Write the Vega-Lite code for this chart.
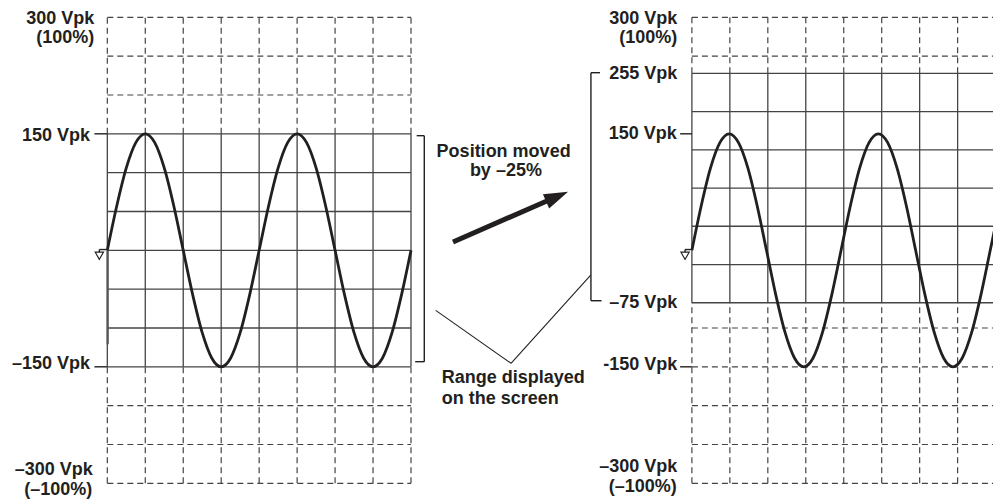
{
  "$schema": "https://vega.github.io/schema/vega-lite/v6.json",
  "width": 993,
  "height": 499,
  "autosize": {"type": "none"},
  "padding": 0,
  "background": "white",
  "config": {"view": {"stroke": null}},
  "datasets": {
    "segments": [
      {"kind": "screen", "x": 0, "x2": 8, "v": 150, "v2": 150},
      {"kind": "screen", "x": 0, "x2": 8, "v": 100, "v2": 100},
      {"kind": "screen", "x": 0, "x2": 8, "v": 50, "v2": 50},
      {"kind": "screen", "x": 0, "x2": 8, "v": 0, "v2": 0},
      {"kind": "screen", "x": 0, "x2": 8, "v": -50, "v2": -50},
      {"kind": "screen", "x": 0, "x2": 8, "v": -100, "v2": -100},
      {"kind": "screen", "x": 0, "x2": 8, "v": -150, "v2": -150},
      {"kind": "full", "x": 0, "x2": 8, "v": 300, "v2": 300},
      {"kind": "full", "x": 0, "x2": 8, "v": 250, "v2": 250},
      {"kind": "full", "x": 0, "x2": 8, "v": 200, "v2": 200},
      {"kind": "full", "x": 0, "x2": 8, "v": -200, "v2": -200},
      {"kind": "full", "x": 0, "x2": 8, "v": -250, "v2": -250},
      {"kind": "full", "x": 0, "x2": 8, "v": -300, "v2": -300},
      {"kind": "screen", "x": 0, "x2": 0, "v": -150, "v2": 150},
      {"kind": "screen", "x": 1, "x2": 1, "v": -150, "v2": 150},
      {"kind": "screen", "x": 2, "x2": 2, "v": -150, "v2": 150},
      {"kind": "screen", "x": 3, "x2": 3, "v": -150, "v2": 150},
      {"kind": "screen", "x": 4, "x2": 4, "v": -150, "v2": 150},
      {"kind": "screen", "x": 5, "x2": 5, "v": -150, "v2": 150},
      {"kind": "screen", "x": 6, "x2": 6, "v": -150, "v2": 150},
      {"kind": "screen", "x": 7, "x2": 7, "v": -150, "v2": 150},
      {"kind": "screen", "x": 8, "x2": 8, "v": -150, "v2": 150},
      {"kind": "full", "x": 0, "x2": 0, "v": 150, "v2": 300},
      {"kind": "full", "x": 1, "x2": 1, "v": 150, "v2": 300},
      {"kind": "full", "x": 2, "x2": 2, "v": 150, "v2": 300},
      {"kind": "full", "x": 3, "x2": 3, "v": 150, "v2": 300},
      {"kind": "full", "x": 4, "x2": 4, "v": 150, "v2": 300},
      {"kind": "full", "x": 5, "x2": 5, "v": 150, "v2": 300},
      {"kind": "full", "x": 6, "x2": 6, "v": 150, "v2": 300},
      {"kind": "full", "x": 7, "x2": 7, "v": 150, "v2": 300},
      {"kind": "full", "x": 8, "x2": 8, "v": 150, "v2": 300},
      {"kind": "full", "x": 0, "x2": 0, "v": -300, "v2": -150},
      {"kind": "full", "x": 1, "x2": 1, "v": -300, "v2": -150},
      {"kind": "full", "x": 2, "x2": 2, "v": -300, "v2": -150},
      {"kind": "full", "x": 3, "x2": 3, "v": -300, "v2": -150},
      {"kind": "full", "x": 4, "x2": 4, "v": -300, "v2": -150},
      {"kind": "full", "x": 5, "x2": 5, "v": -300, "v2": -150},
      {"kind": "full", "x": 6, "x2": 6, "v": -300, "v2": -150},
      {"kind": "full", "x": 7, "x2": 7, "v": -300, "v2": -150},
      {"kind": "full", "x": 8, "x2": 8, "v": -300, "v2": -150},

      {"kind": "screen", "x": 15.4, "x2": 23.4, "v": 227.9, "v2": 227.9},
      {"kind": "screen", "x": 15.4, "x2": 23.4, "v": 178.7, "v2": 178.7},
      {"kind": "screen", "x": 15.4, "x2": 23.4, "v": 129.4, "v2": 129.4},
      {"kind": "screen", "x": 15.4, "x2": 23.4, "v": 80.2, "v2": 80.2},
      {"kind": "screen", "x": 15.4, "x2": 23.4, "v": 31.0, "v2": 31.0},
      {"kind": "screen", "x": 15.4, "x2": 23.4, "v": -18.3, "v2": -18.3},
      {"kind": "screen", "x": 15.4, "x2": 23.4, "v": -67.5, "v2": -67.5},
      {"kind": "full", "x": 15.4, "x2": 23.4, "v": 300, "v2": 300},
      {"kind": "full", "x": 15.4, "x2": 23.4, "v": 250, "v2": 250},
      {"kind": "full", "x": 15.4, "x2": 23.4, "v": -100, "v2": -100},
      {"kind": "full", "x": 15.4, "x2": 23.4, "v": -150, "v2": -150},
      {"kind": "full", "x": 15.4, "x2": 23.4, "v": -200, "v2": -200},
      {"kind": "full", "x": 15.4, "x2": 23.4, "v": -250, "v2": -250},
      {"kind": "full", "x": 15.4, "x2": 23.4, "v": -300, "v2": -300},
      {"kind": "screen", "x": 15.4, "x2": 15.4, "v": -67.5, "v2": 227.9},
      {"kind": "screen", "x": 16.4, "x2": 16.4, "v": -67.5, "v2": 227.9},
      {"kind": "screen", "x": 17.4, "x2": 17.4, "v": -67.5, "v2": 227.9},
      {"kind": "screen", "x": 18.4, "x2": 18.4, "v": -67.5, "v2": 227.9},
      {"kind": "screen", "x": 19.4, "x2": 19.4, "v": -67.5, "v2": 227.9},
      {"kind": "screen", "x": 20.4, "x2": 20.4, "v": -67.5, "v2": 227.9},
      {"kind": "screen", "x": 21.4, "x2": 21.4, "v": -67.5, "v2": 227.9},
      {"kind": "screen", "x": 22.4, "x2": 22.4, "v": -67.5, "v2": 227.9},
      {"kind": "full", "x": 15.4, "x2": 15.4, "v": 227.9, "v2": 300},
      {"kind": "full", "x": 16.4, "x2": 16.4, "v": 227.9, "v2": 300},
      {"kind": "full", "x": 17.4, "x2": 17.4, "v": 227.9, "v2": 300},
      {"kind": "full", "x": 18.4, "x2": 18.4, "v": 227.9, "v2": 300},
      {"kind": "full", "x": 19.4, "x2": 19.4, "v": 227.9, "v2": 300},
      {"kind": "full", "x": 20.4, "x2": 20.4, "v": 227.9, "v2": 300},
      {"kind": "full", "x": 21.4, "x2": 21.4, "v": 227.9, "v2": 300},
      {"kind": "full", "x": 22.4, "x2": 22.4, "v": 227.9, "v2": 300},
      {"kind": "full", "x": 15.4, "x2": 15.4, "v": -300, "v2": -67.5},
      {"kind": "full", "x": 16.4, "x2": 16.4, "v": -300, "v2": -67.5},
      {"kind": "full", "x": 17.4, "x2": 17.4, "v": -300, "v2": -67.5},
      {"kind": "full", "x": 18.4, "x2": 18.4, "v": -300, "v2": -67.5},
      {"kind": "full", "x": 19.4, "x2": 19.4, "v": -300, "v2": -67.5},
      {"kind": "full", "x": 20.4, "x2": 20.4, "v": -300, "v2": -67.5},
      {"kind": "full", "x": 21.4, "x2": 21.4, "v": -300, "v2": -67.5},
      {"kind": "full", "x": 22.4, "x2": 22.4, "v": -300, "v2": -67.5},

      {"kind": "mark", "x": -0.34, "x2": 0, "v": 150, "v2": 150},
      {"kind": "mark", "x": -0.34, "x2": 0, "v": -150, "v2": -150},
      {"kind": "mark", "x": 15.09, "x2": 15.4, "v": 150, "v2": 150},
      {"kind": "mark", "x": 15.09, "x2": 15.4, "v": -150, "v2": -150},
      {"kind": "mark", "x": 8.15, "x2": 8.35, "v": 147.6, "v2": 147.6},
      {"kind": "mark", "x": 8.35, "x2": 8.35, "v": 147.6, "v2": -143.4},
      {"kind": "mark", "x": 8.11, "x2": 8.35, "v": -143.4, "v2": -143.4},
      {"kind": "mark", "x": 12.74, "x2": 12.98, "v": 228.7, "v2": 228.7},
      {"kind": "mark", "x": 12.74, "x2": 12.74, "v": 228.7, "v2": -64.9},
      {"kind": "mark", "x": 12.74, "x2": 13.02, "v": -64.9, "v2": -64.9},
      {"kind": "mark", "x": -0.21, "x2": -0.02, "v": 1, "v2": 1},
      {"kind": "mark", "x": -0.21, "x2": -0.21, "v": 1, "v2": -3},
      {"kind": "mark", "x": 15.22, "x2": 15.38, "v": 1, "v2": 1},
      {"kind": "mark", "x": 15.22, "x2": 15.22, "v": 1, "v2": -3},

      {"kind": "leader", "x": 8.651, "x2": 10.635, "v": -77.3, "v2": -145.5},
      {"kind": "leader", "x": 10.635, "x2": 12.734, "v": -145.5, "v2": -31.8},

      {"kind": "trace", "x": 0.01, "x2": 0.01, "v": 0, "v2": -121},

      {"kind": "arrow", "x": 9.107, "x2": 11.85, "v": 10.7, "v2": 69.3}
    ],
    "arrowheads": [
      {"x": 11.847, "v": 69.3}
    ],
    "grounds": [
      {"x": -0.21, "v": -7},
      {"x": 15.22, "v": -7}
    ],
    "waves": [
      {"panel": "left", "x": 0, "v": 0},
      {"panel": "left", "x": 0.25, "v": 57.4},
      {"panel": "left", "x": 0.5, "v": 106.1},
      {"panel": "left", "x": 0.75, "v": 138.6},
      {"panel": "left", "x": 1, "v": 150},
      {"panel": "left", "x": 1.25, "v": 138.6},
      {"panel": "left", "x": 1.5, "v": 106.1},
      {"panel": "left", "x": 1.75, "v": 57.4},
      {"panel": "left", "x": 2, "v": 0},
      {"panel": "left", "x": 2.25, "v": -57.4},
      {"panel": "left", "x": 2.5, "v": -106.1},
      {"panel": "left", "x": 2.75, "v": -138.6},
      {"panel": "left", "x": 3, "v": -150},
      {"panel": "left", "x": 3.25, "v": -138.6},
      {"panel": "left", "x": 3.5, "v": -106.1},
      {"panel": "left", "x": 3.75, "v": -57.4},
      {"panel": "left", "x": 4, "v": 0},
      {"panel": "left", "x": 4.25, "v": 57.4},
      {"panel": "left", "x": 4.5, "v": 106.1},
      {"panel": "left", "x": 4.75, "v": 138.6},
      {"panel": "left", "x": 5, "v": 150},
      {"panel": "left", "x": 5.25, "v": 138.6},
      {"panel": "left", "x": 5.5, "v": 106.1},
      {"panel": "left", "x": 5.75, "v": 57.4},
      {"panel": "left", "x": 6, "v": 0},
      {"panel": "left", "x": 6.25, "v": -57.4},
      {"panel": "left", "x": 6.5, "v": -106.1},
      {"panel": "left", "x": 6.75, "v": -138.6},
      {"panel": "left", "x": 7, "v": -150},
      {"panel": "left", "x": 7.25, "v": -138.6},
      {"panel": "left", "x": 7.5, "v": -106.1},
      {"panel": "left", "x": 7.75, "v": -57.4},
      {"panel": "left", "x": 8, "v": 0},
      {"panel": "right", "x": 15.4, "v": 0},
      {"panel": "right", "x": 15.646, "v": 57.4},
      {"panel": "right", "x": 15.891, "v": 106.1},
      {"panel": "right", "x": 16.137, "v": 138.6},
      {"panel": "right", "x": 16.382, "v": 150},
      {"panel": "right", "x": 16.628, "v": 138.6},
      {"panel": "right", "x": 16.874, "v": 106.1},
      {"panel": "right", "x": 17.119, "v": 57.4},
      {"panel": "right", "x": 17.365, "v": 0},
      {"panel": "right", "x": 17.61, "v": -57.4},
      {"panel": "right", "x": 17.856, "v": -106.1},
      {"panel": "right", "x": 18.102, "v": -138.6},
      {"panel": "right", "x": 18.347, "v": -150},
      {"panel": "right", "x": 18.593, "v": -138.6},
      {"panel": "right", "x": 18.838, "v": -106.1},
      {"panel": "right", "x": 19.084, "v": -57.4},
      {"panel": "right", "x": 19.33, "v": 0},
      {"panel": "right", "x": 19.575, "v": 57.4},
      {"panel": "right", "x": 19.821, "v": 106.1},
      {"panel": "right", "x": 20.066, "v": 138.6},
      {"panel": "right", "x": 20.312, "v": 150},
      {"panel": "right", "x": 20.558, "v": 138.6},
      {"panel": "right", "x": 20.803, "v": 106.1},
      {"panel": "right", "x": 21.049, "v": 57.4},
      {"panel": "right", "x": 21.294, "v": 0},
      {"panel": "right", "x": 21.54, "v": -57.4},
      {"panel": "right", "x": 21.786, "v": -106.1},
      {"panel": "right", "x": 22.031, "v": -138.6},
      {"panel": "right", "x": 22.277, "v": -150},
      {"panel": "right", "x": 22.522, "v": -138.6},
      {"panel": "right", "x": 22.768, "v": -106.1},
      {"panel": "right", "x": 23.014, "v": -57.4},
      {"panel": "right", "x": 23.259, "v": 0},
      {"panel": "right", "x": 23.505, "v": 57.4}
    ],
    "texts": [
      {"group": "axis", "label": "300 Vpk", "x": -0.342, "v": 291.4},
      {"group": "axis", "label": "(100%)", "x": -0.342, "v": 266.5},
      {"group": "axis", "label": "150 Vpk", "x": -0.456, "v": 141.1},
      {"group": "axis", "label": "–150 Vpk", "x": -0.456, "v": -153.2},
      {"group": "axis", "label": "–300 Vpk", "x": -0.385, "v": -289.8},
      {"group": "axis", "label": "(–100%)", "x": -0.395, "v": -315.0},
      {"group": "axis", "label": "300 Vpk", "x": 15.016, "v": 291.4},
      {"group": "axis", "label": "(100%)", "x": 15.016, "v": 266.9},
      {"group": "axis", "label": "255 Vpk", "x": 15.016, "v": 220.6},
      {"group": "axis", "label": "150 Vpk", "x": 15.0, "v": 142.9},
      {"group": "axis", "label": "–75 Vpk", "x": 15.016, "v": -73.9},
      {"group": "axis", "label": "-150 Vpk", "x": 15.016, "v": -154.1},
      {"group": "axis", "label": "–300 Vpk", "x": 15.016, "v": -285.3},
      {"group": "axis", "label": "(–100%)", "x": 15.0, "v": -310.8},
      {"group": "center", "label": "Position moved", "x": 10.44, "v": 119.7},
      {"group": "center", "label": "by –25%", "x": 10.5, "v": 95.7},
      {"group": "left", "label": "Range displayed", "x": 8.81, "v": -170.9},
      {"group": "left", "label": "on the screen", "x": 8.81, "v": -197.9}
    ]
  },
  "encoding": {
    "x": {"field": "x", "type": "quantitative", "scale": {"domain": [-2.827, 23.332], "nice": false, "zero": false}, "axis": null},
    "y": {"field": "v", "type": "quantitative", "scale": {"domain": [-320.2, 322.3], "nice": false, "zero": false}, "axis": null}
  },
  "layer": [
    {
      "data": {"name": "segments"},
      "transform": [{"filter": "datum.kind === 'full'"}],
      "mark": {"type": "rule", "color": "#444444", "strokeWidth": 1.2, "strokeDash": [6, 4]},
      "encoding": {"x2": {"field": "x2"}, "y2": {"field": "v2"}}
    },
    {
      "data": {"name": "segments"},
      "transform": [{"filter": "datum.kind === 'screen'"}],
      "mark": {"type": "rule", "color": "#444444", "strokeWidth": 1.3},
      "encoding": {"x2": {"field": "x2"}, "y2": {"field": "v2"}}
    },
    {
      "data": {"name": "segments"},
      "transform": [{"filter": "datum.kind === 'trace'"}],
      "mark": {"type": "rule", "color": "#555555", "strokeWidth": 2.2},
      "encoding": {"x2": {"field": "x2"}, "y2": {"field": "v2"}}
    },
    {
      "data": {"name": "segments"},
      "transform": [{"filter": "datum.kind === 'mark'"}],
      "mark": {"type": "rule", "color": "#231f20", "strokeWidth": 1.4},
      "encoding": {"x2": {"field": "x2"}, "y2": {"field": "v2"}}
    },
    {
      "data": {"name": "segments"},
      "transform": [{"filter": "datum.kind === 'leader'"}],
      "mark": {"type": "rule", "color": "#231f20", "strokeWidth": 1.1},
      "encoding": {"x2": {"field": "x2"}, "y2": {"field": "v2"}}
    },
    {
      "data": {"name": "segments"},
      "transform": [{"filter": "datum.kind === 'arrow'"}],
      "mark": {"type": "rule", "color": "#231f20", "strokeWidth": 5},
      "encoding": {"x2": {"field": "x2"}, "y2": {"field": "v2"}}
    },
    {
      "data": {"name": "arrowheads"},
      "mark": {"type": "point", "shape": "M-1,-0.65L1,0L-1,0.65Z", "size": 576, "angle": 336.4, "filled": true, "color": "#231f20", "opacity": 1, "strokeWidth": 0}
    },
    {
      "data": {"name": "waves"},
      "mark": {"type": "line", "color": "#231f20", "strokeWidth": 2.8, "interpolate": "monotone"},
      "encoding": {"detail": {"field": "panel"}}
    },
    {
      "data": {"name": "grounds"},
      "mark": {"type": "point", "shape": "triangle-down", "size": 70, "filled": true, "fill": "white", "stroke": "#231f20", "strokeWidth": 1.1, "opacity": 1}
    },
    {
      "data": {"name": "texts"},
      "transform": [{"filter": "datum.group === 'axis'"}],
      "mark": {"type": "text", "align": "right", "baseline": "alphabetic", "font": "Liberation Sans", "fontWeight": "bold", "fontSize": 18, "color": "#231f20"},
      "encoding": {"text": {"field": "label"}}
    },
    {
      "data": {"name": "texts"},
      "transform": [{"filter": "datum.group === 'center'"}],
      "mark": {"type": "text", "align": "center", "baseline": "alphabetic", "font": "Liberation Sans", "fontWeight": "bold", "fontSize": 18, "color": "#231f20"},
      "encoding": {"text": {"field": "label"}}
    },
    {
      "data": {"name": "texts"},
      "transform": [{"filter": "datum.group === 'left'"}],
      "mark": {"type": "text", "align": "left", "baseline": "alphabetic", "font": "Liberation Sans", "fontWeight": "bold", "fontSize": 18, "color": "#231f20"},
      "encoding": {"text": {"field": "label"}}
    }
  ]
}
